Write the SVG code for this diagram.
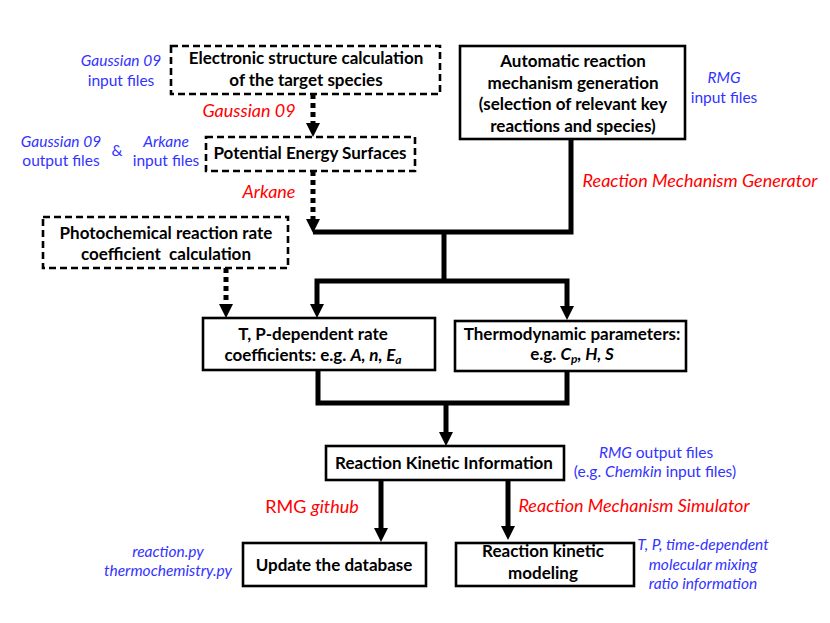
<svg xmlns="http://www.w3.org/2000/svg" width="830" height="623" viewBox="0 0 830 623">
<style>
.box{fill:#fff;stroke:#000;stroke-width:2.6}
.dbox{fill:#fff;stroke:#000;stroke-width:2.6;stroke-dasharray:7 4}
.t{font-family:Lato,"Liberation Sans",sans-serif;font-weight:bold;font-size:17px;fill:#000;text-anchor:middle}
.b{font-family:Lato,"Liberation Sans",sans-serif;font-size:15.5px;fill:#3333ff;text-anchor:middle}
.r{font-family:Lato,"Liberation Sans",sans-serif;font-size:18px;fill:#ff0000;font-style:italic;text-anchor:middle}
.i{font-style:italic}
.thick{fill:none;stroke:#000;stroke-width:5}
.dot{fill:none;stroke:#000;stroke-width:5;stroke-dasharray:5 4}
</style>
<g id="connectors">
<path class="dot" d="M313,94 V124" />
<path d="M306,123 L320,123 L313,137 Z"/>
<path class="dot" d="M313,171 V219" />
<path d="M306,219 L320,219 L313,233 Z"/>
<path class="thick" d="M571,139 V232 H313" />
<path class="thick" d="M444,232 V281" />
<path class="thick" d="M317,305 V281 H567 V307"/>
<path d="M310,304 L324,304 L317,318 Z"/>
<path d="M560,306 L574,306 L567,320 Z"/>
<path class="dot" d="M226,268 V305" />
<path d="M219,304 L233,304 L226,318 Z"/>
<path class="thick" d="M318,370 V403 H567 V371" />
<path class="thick" d="M446,403 V433" />
<path d="M439,432 L453,432 L446,446 Z"/>
<path class="thick" d="M381,480 V529" />
<path d="M374,528 L388,528 L381,542 Z"/>
<path class="thick" d="M508,480 V527" />
<path d="M501,526 L515,526 L508,540 Z"/>
</g>
<g id="n-electronic">
<rect class="dbox" x="171" y="46" width="269" height="48"/>
<text class="t" x="306" y="64">Electronic structure calculation</text>
<text class="t" x="306" y="86">of the target species</text>
</g>
<g id="n-pes">
<rect class="dbox" x="206" y="137" width="209" height="34"/>
<text class="t" x="310" y="159">Potential Energy Surfaces</text>
</g>
<g id="n-auto">
<rect class="box" x="460" y="46" width="225" height="93"/>
<text class="t" x="573" y="67">Automatic reaction</text>
<text class="t" x="573" y="88.5">mechanism generation</text>
<text class="t" x="573" y="110">(selection of relevant key</text>
<text class="t" x="573" y="131.5">reactions and species)</text>
</g>
<g id="n-photo">
<rect class="dbox" x="43" y="217" width="245" height="51"/>
<text class="t" x="166" y="239">Photochemical reaction rate</text>
<text class="t" x="166" y="260" xml:space="preserve">coefficient  calculation</text>
</g>
<g id="n-tp">
<rect class="box" x="203" y="318" width="232" height="52"/>
<text class="t" x="313" y="340">T, P-dependent rate</text>
<text class="t" x="313" y="361">coefficients: e.g. <tspan class="i">A, n, E</tspan><tspan class="i" font-size="12" dy="3">a</tspan></text>
</g>
<g id="n-thermo">
<rect class="box" x="455" y="321" width="231" height="50"/>
<text class="t" x="572" y="340">Thermodynamic parameters:</text>
<text class="t" x="572" y="360">e.g. <tspan class="i">C</tspan><tspan class="i" font-size="12" dy="3">p</tspan><tspan class="i" dy="-3">, H, S</tspan></text>
</g>
<g id="n-rki">
<rect class="box" x="326" y="446" width="238" height="34"/>
<text class="t" x="444" y="469">Reaction Kinetic Information</text>
</g>
<g id="n-update">
<rect class="box" x="243" y="543" width="183" height="43"/>
<text class="t" x="334" y="571">Update the database</text>
</g>
<g id="n-modeling">
<rect class="box" x="456" y="543" width="178" height="43"/>
<text class="t" x="543" y="557">Reaction kinetic</text>
<text class="t" x="543" y="579">modeling</text>
</g>
<g id="labels">
<text class="b" x="121" y="66"><tspan class="i">Gaussian 09</tspan></text>
<text class="b" x="121" y="86">input files</text>
<text class="r" x="249" y="117">Gaussian 09</text>
<text class="b" x="61" y="147"><tspan class="i">Gaussian 09</tspan></text>
<text class="b" x="61" y="166">output files</text>
<text class="b" x="117" y="156">&amp;</text>
<text class="b" x="166" y="147"><tspan class="i">Arkane</tspan></text>
<text class="b" x="166" y="166">input files</text>
<text class="r" x="269" y="198">Arkane</text>
<text class="b" x="724" y="83"><tspan class="i">RMG</tspan></text>
<text class="b" x="724" y="103">input files</text>
<text class="r" x="700" y="187">Reaction Mechanism Generator</text>
<text class="b" x="656" y="458"><tspan class="i">RMG</tspan> output files</text>
<text class="b" x="655" y="477">(e.g. <tspan class="i">Chemkin</tspan> input files)</text>
<text class="r" x="312" y="513"><tspan font-style="normal">RMG </tspan>github</text>
<text class="r" x="634" y="512">Reaction Mechanism Simulator</text>
<text class="b i" x="168" y="557">reaction.py</text>
<text class="b i" x="168" y="576">thermochemistry.py</text>
<text class="b i" x="703" y="550">T, P, time-dependent</text>
<text class="b i" x="703" y="570">molecular mixing</text>
<text class="b i" x="703" y="589">ratio information</text>
</g>
</svg>
